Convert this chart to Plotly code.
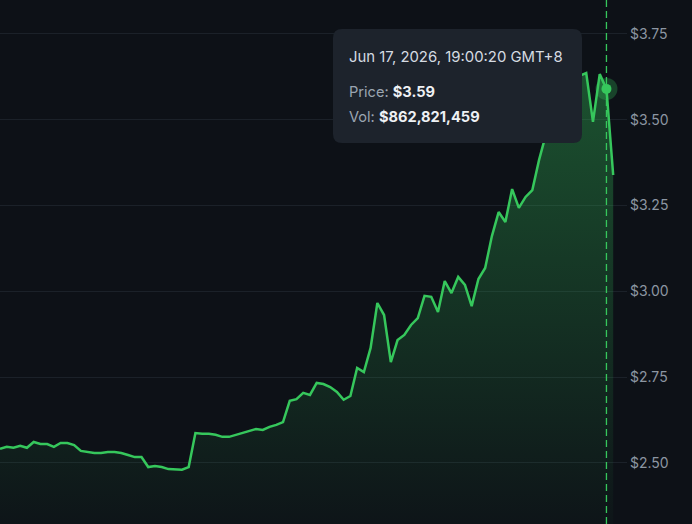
import plotly.graph_objects as go

# ---- data ----
prices = [
    2.541, 2.547, 2.544, 2.550, 2.544, 2.561, 2.555, 2.555, 2.547, 2.558,
    2.558, 2.552, 2.535, 2.532, 2.529, 2.529, 2.532, 2.532, 2.529, 2.523,
    2.517, 2.517, 2.488, 2.491, 2.488, 2.482, 2.482, 2.480, 2.488, 2.587,
    2.585, 2.585, 2.582, 2.576, 2.576, 2.582, 2.587, 2.593, 2.599, 2.596,
    2.605, 2.611, 2.619, 2.681, 2.686, 2.704, 2.698, 2.733, 2.730, 2.721,
    2.707, 2.684, 2.695, 2.777, 2.765, 2.835, 2.966, 2.931, 2.794, 2.858,
    2.873, 2.902, 2.922, 2.987, 2.984, 2.940, 3.030, 2.995, 3.042, 3.019,
    2.957, 3.036, 3.068, 3.161, 3.231, 3.202, 3.298, 3.243, 3.275, 3.295,
    3.383, 3.456, 3.514, 3.558, 3.593, 3.610, 3.628, 3.636, 3.494, 3.633,
    3.590, 3.339,
]
idx = list(range(len(prices)))
hover_index = 90
hover_time = "Jun 17, 2026, 19:00:20 GMT+8"
hover_volume = 862821459
y_ticks = [2.50, 2.75, 3.00, 3.25, 3.50, 3.75]

GREEN = "#36c75c"
BG = "#0d1117"
GRID = "#1b2129"
TIP_BG = "#1d232c"
FONT = "Inter"

W, H = 692, 524
ML, MR, MT, MB = 0, 65, 0, 0
PW, PH = W - ML - MR, H - MT - MB

def px(x):
    return (x - ML) / PW

def py(y):
    return 1 - (y - MT) / PH

fig = go.Figure()

fig.add_trace(go.Scatter(
    x=idx, y=prices, mode="lines",
    line=dict(color=GREEN, width=2.5),
    fill="tozeroy",
    fillgradient=dict(
        type="vertical",
        colorscale=[[0, "rgba(54,199,92,0.02)"], [1, "rgba(54,199,92,0.36)"]],
        start=2.32, stop=3.64,
    ),
    hoverinfo="skip", showlegend=False,
))

# hovered point: halo + dot
fig.add_trace(go.Scatter(
    x=[idx[hover_index]], y=[prices[hover_index]], mode="markers",
    marker=dict(size=22, color="rgba(54,199,92,0.28)", line=dict(width=0)),
    hoverinfo="skip", showlegend=False,
))
fig.add_trace(go.Scatter(
    x=[idx[hover_index]], y=[prices[hover_index]], mode="markers",
    marker=dict(size=10, color=GREEN, line=dict(width=0)),
    hoverinfo="skip", showlegend=False,
))

# dashed crosshair
fig.add_shape(type="line", xref="x", yref="paper",
              x0=idx[hover_index], x1=idx[hover_index], y0=0, y1=1,
              line=dict(color=GREEN, width=1.3, dash="7px,4px"))

# tooltip box (rounded rect in paper coords)
x0, x1, y0, y1 = 333, 582, 29, 143
r = 9
rx, ry = r / PW, r / PH
X0, X1, Y0, Y1 = px(x0), px(x1), py(y1), py(y0)
path = (f"M {X0+rx},{Y1} L {X1-rx},{Y1} Q {X1},{Y1} {X1},{Y1-ry} "
        f"L {X1},{Y0+ry} Q {X1},{Y0} {X1-rx},{Y0} "
        f"L {X0+rx},{Y0} Q {X0},{Y0} {X0},{Y0+ry} "
        f"L {X0},{Y1-ry} Q {X0},{Y1} {X0+rx},{Y1} Z")
fig.add_shape(type="path", xref="paper", yref="paper", path=path,
              fillcolor=TIP_BG, line=dict(width=0), layer="above")

LABEL = "#9ba5b1"
tips = [
    (57, 14.9, f"<span style='color:#d5dbe2'>{hover_time}</span>"),
    (92, 14.6, f"<span style='color:{LABEL}'>Price: </span><b>${prices[hover_index]:.2f}</b>"),
    (117, 14.6, f"<span style='color:{LABEL}'>Vol: </span><b>${hover_volume:,}</b>"),
]
for yy, fs, txt in tips:
    fig.add_annotation(xref="paper", yref="paper", x=px(347), y=py(yy),
                       xanchor="left", yanchor="middle", showarrow=False,
                       text=txt, font=dict(family=FONT, size=fs, color="#eef1f4"))

fig.update_layout(
    width=W, height=H,
    margin=dict(l=ML, r=MR, t=MT, b=MB),
    paper_bgcolor=BG, plot_bgcolor=BG,
    font=dict(family=FONT, color="#8c96a2", size=13),
    showlegend=False,
    xaxis=dict(visible=False, range=[0, 93.05], fixedrange=True),
    yaxis=dict(side="right", range=[2.322, 3.849],
               tickvals=y_ticks, ticktext=[f"${v:.2f}" for v in y_ticks],
               showgrid=True, gridcolor=GRID, gridwidth=1,
               zeroline=False, showline=False, ticks="",
               ticklabelstandoff=2,
               tickfont=dict(family=FONT, size=14, color="#8c96a2")),
)

fig.write_html("out.html")
